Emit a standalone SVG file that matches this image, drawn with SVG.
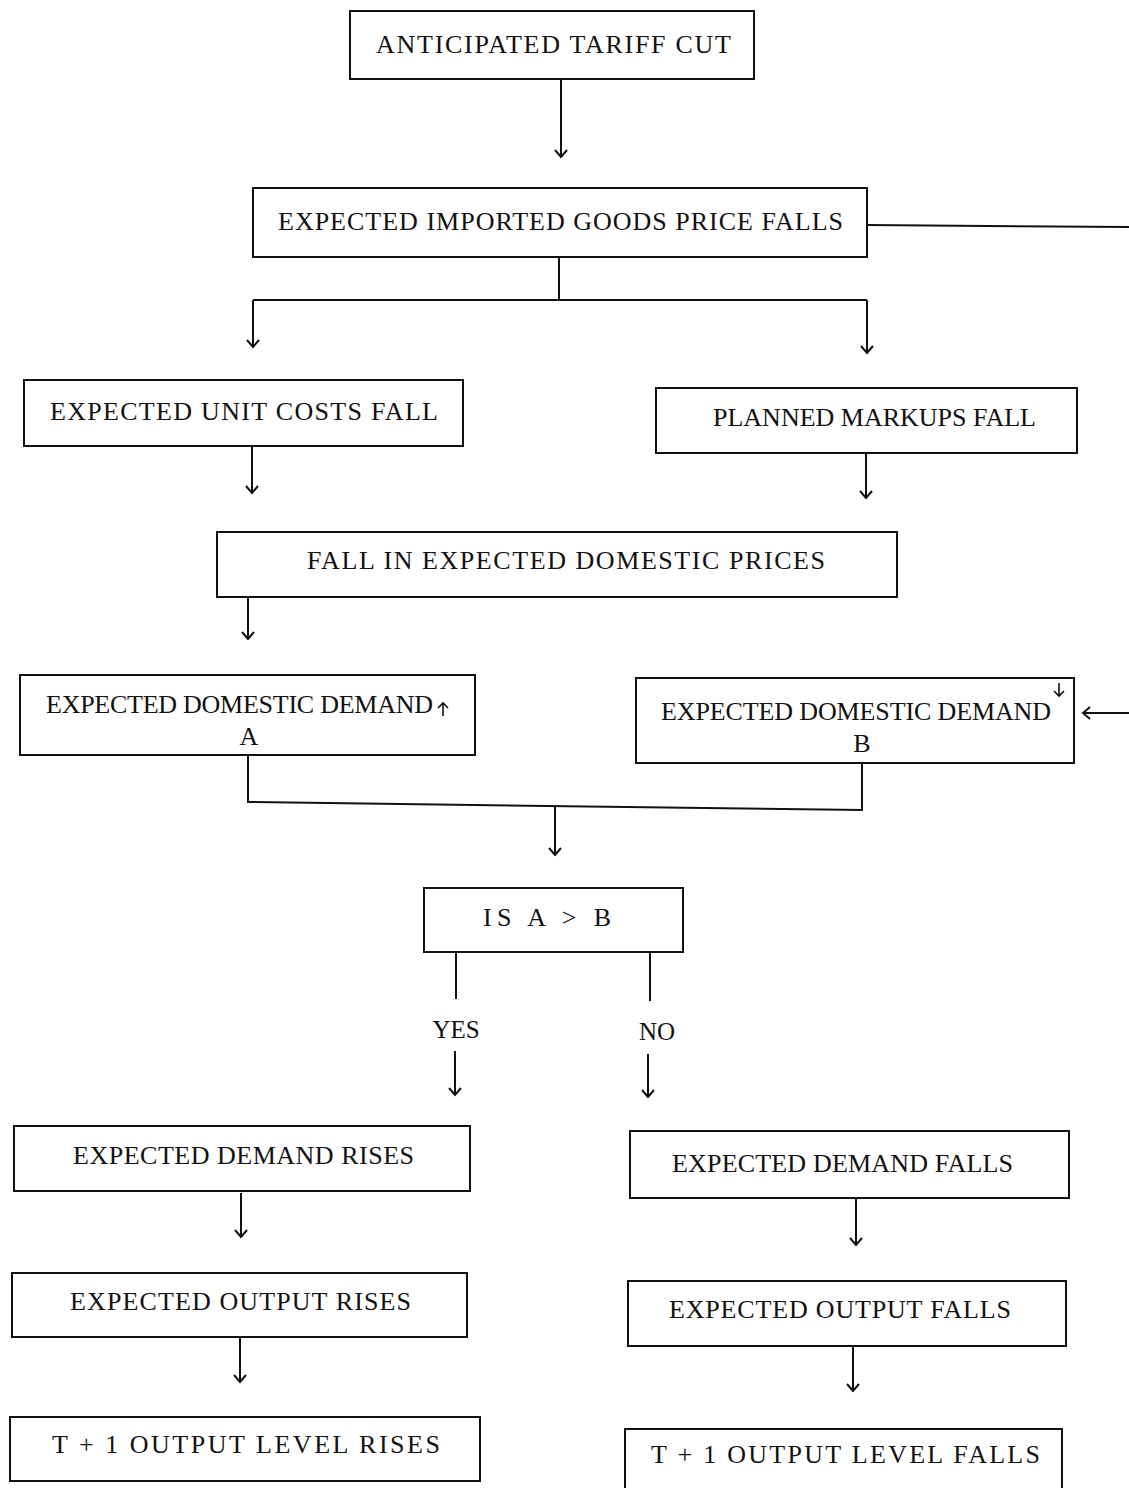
<svg xmlns="http://www.w3.org/2000/svg" width="1129" height="1488" viewBox="0 0 1129 1488">
<style>
rect.box{fill:none;stroke:#111;stroke-width:2}
text{font-family:"Liberation Serif","Times New Roman",serif;font-size:26px;fill:#111}
.ln{fill:none;stroke:#111;stroke-width:2}
.ar{fill:none;stroke:#111;stroke-width:2;marker-end:url(#ah)}
.sm{fill:none;stroke:#111;stroke-width:1.6}
</style>
<defs>
<marker id="ah" markerWidth="16" markerHeight="16" refX="8" refY="8" orient="auto" markerUnits="userSpaceOnUse">
<path d="M1,2 L8,8 L1,14" fill="none" stroke="#111" stroke-width="2"/>
</marker>
</defs>
<rect width="1129" height="1488" fill="#fff"/>
<g id="n1"><rect class="box" x="350" y="11" width="404" height="68"/><text x="376" y="53" textLength="355" lengthAdjust="spacing">ANTICIPATED  TARIFF  CUT</text></g>
<g id="n2"><rect class="box" x="253" y="188" width="614" height="69"/><text x="278" y="230" textLength="565" lengthAdjust="spacing">EXPECTED  IMPORTED  GOODS  PRICE  FALLS</text></g>
<g id="n3"><rect class="box" x="24" y="380" width="439" height="66"/><text x="50" y="420" textLength="388" lengthAdjust="spacing">EXPECTED  UNIT  COSTS  FALL</text></g>
<g id="n4"><rect class="box" x="656" y="388" width="421" height="65"/><text x="713" y="426" textLength="323" lengthAdjust="spacing">PLANNED  MARKUPS  FALL</text></g>
<g id="n5"><rect class="box" x="217" y="532" width="680" height="65"/><text x="307" y="569" textLength="518" lengthAdjust="spacing">FALL  IN  EXPECTED  DOMESTIC  PRICES</text></g>
<g id="n6"><rect class="box" x="20" y="675" width="455" height="80"/><text x="46" y="713" textLength="387" lengthAdjust="spacing">EXPECTED  DOMESTIC  DEMAND</text><path class="sm" d="M443,716 L443,703 M438,708 L443,703 L448,708"/><text x="249" y="745" text-anchor="middle">A</text></g>
<g id="n7"><rect class="box" x="636" y="678" width="438" height="85"/><text x="661" y="720" textLength="390" lengthAdjust="spacing">EXPECTED  DOMESTIC  DEMAND</text><path class="sm" d="M1059,683 L1059,696 M1054,691 L1059,696 L1064,691"/><text x="862" y="752" text-anchor="middle">B</text></g>
<g id="n8"><rect class="box" x="424" y="888" width="259" height="64"/><text x="483" y="926" textLength="128" lengthAdjust="spacing">IS  A  &gt;  B</text></g>
<g id="n9"><rect class="box" x="14" y="1126" width="456" height="65"/><text x="73" y="1164" textLength="341" lengthAdjust="spacing">EXPECTED  DEMAND  RISES</text></g>
<g id="n10"><rect class="box" x="630" y="1131" width="439" height="67"/><text x="672" y="1172" textLength="341" lengthAdjust="spacing">EXPECTED  DEMAND  FALLS</text></g>
<g id="n11"><rect class="box" x="12" y="1273" width="455" height="64"/><text x="70" y="1310" textLength="341" lengthAdjust="spacing">EXPECTED  OUTPUT  RISES</text></g>
<g id="n12"><rect class="box" x="628" y="1281" width="438" height="65"/><text x="669" y="1318" textLength="342" lengthAdjust="spacing">EXPECTED  OUTPUT  FALLS</text></g>
<g id="n13"><rect class="box" x="10" y="1417" width="470" height="64"/><text x="52" y="1453" textLength="388" lengthAdjust="spacing">T  +  1  OUTPUT  LEVEL  RISES</text></g>
<g id="n14"><rect class="box" x="625" y="1429" width="437" height="64"/><text x="651" y="1463" textLength="389" lengthAdjust="spacing">T  +  1  OUTPUT  LEVEL  FALLS</text></g>
<g id="connectors">
<path class="ar" d="M561,79 L561,157"/>
<path class="ln" d="M867,225 L1129,227"/>
<path class="ln" d="M559,257 L559,300 M253,300 L867,300"/>
<path class="ar" d="M253,300 L253,347"/>
<path class="ar" d="M867,300 L867,353"/>
<path class="ar" d="M252,446 L252,493"/>
<path class="ar" d="M866,453 L866,498"/>
<path class="ar" d="M248,597 L248,639"/>
<path class="ar" d="M1129,713 L1083,713"/>
<path class="ln" d="M248,755 L248,802 L862,810 L862,763"/>
<path class="ar" d="M555,806 L555,855"/>
<path class="ln" d="M456,952 L456,999"/>
<path class="ln" d="M650,952 L650,1001"/>
<text x="456" y="1038" text-anchor="middle" style="font-size:25px">YES</text>
<text x="657" y="1040" text-anchor="middle" style="font-size:25px">NO</text>
<path class="ar" d="M455,1051 L455,1095"/>
<path class="ar" d="M648,1054 L648,1097"/>
<path class="ar" d="M241,1193 L241,1237"/>
<path class="ar" d="M856,1198 L856,1245"/>
<path class="ar" d="M240,1337 L240,1382"/>
<path class="ar" d="M853,1346 L853,1391"/>
</g>
</svg>
